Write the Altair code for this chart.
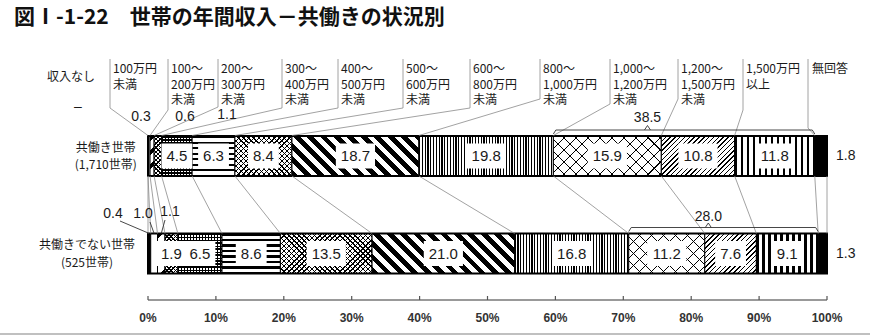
import math
import altair as alt
import pandas as pd

# ---------------- data ----------------
title = "図Ⅰ-1-22　世帯の年間収入－共働きの状況別"
categories = ["収入なし", "100万円未満", "100～200万円未満", "200～300万円未満",
              "300～400万円未満", "400～500万円未満", "500～600万円未満",
              "600～800万円未満", "800～1,000万円未満", "1,000～1,200万円未満",
              "1,200～1,500万円未満", "1,500万円以上", "無回答"]
header_lines = [["収入なし"], ["100万円", "未満"], ["100～", "200万円", "未満"],
                ["200～", "300万円", "未満"], ["300～", "400万円", "未満"],
                ["400～", "500万円", "未満"], ["500～", "600万円", "未満"],
                ["600～", "800万円", "未満"], ["800～", "1,000万円", "未満"],
                ["1,000～", "1,200万円", "未満"], ["1,200～", "1,500万円", "未満"],
                ["1,500万円", "以上"], ["無回答"]]
rows = ["共働き世帯", "共働きでない世帯"]
row_counts = ["(1,710世帯)", "(525世帯)"]
dual_income = [None, 0.3, 0.6, 1.1, 4.5, 6.3, 8.4, 18.7, 19.8, 15.9, 10.8, 11.8, 1.8]
single_income = [0.4, 1.0, 1.1, 1.9, 6.5, 8.6, 13.5, 21.0, 16.8, 11.2, 7.6, 9.1, 1.3]
bracket_first, bracket_last = 9, 11
bracket_totals = [38.5, 28.0]
tick_values = [0, 10, 20, 30, 40, 50, 60, 70, 80, 90, 100]

# ---------------- layout (pixels) ----------------
W, H = 679, 300
LEFT, RIGHT, BOTTOM = 148, 43, 36
PX = W / 100.0
BAR_H = 40
BAR_TOP = [136, 233.5]
FONT_JP = "Noto Sans CJK JP"
FONT_NUM = "Liberation Sans"


def u(px):
    """canvas x pixel -> x-scale units (layout helper for annotations)"""
    return (px - LEFT) / PX


header_sep_px = [None, 110, 168, 218, 282, 338, 403, 470, 540, 610, 678, 743, 808]
header_bend_y = [None, 108, 110, 107, 108, 108, 108, 108, 99, 104, 99, 110, 128]
small_label_pos = {(0, 0): (78, 107), (0, 1): (141, 117), (0, 2): (185, 117), (0, 3): (227, 115),
                   (1, 0): (113, 214), (1, 1): (143, 214), (1, 2): (170, 212)}
leader_from = {(1, 0): (120, 221), (1, 1): (150, 222), (1, 2): (165, 220)}
bracket_y = [130, 227.5]
bracket_label_y = [118, 217]
bracket_notch = [0.36, 0.42]

# ---------------- tables ----------------
recs = []
for r, vals in enumerate([dual_income, single_income]):
    cum = 0.0
    for i, v in enumerate(vals):
        val = v if v is not None else 0.0
        lab = "–" if v is None else f"{v:.1f}"
        recs.append(dict(row=rows[r], r=r, idx=i, cat=categories[i], value=val,
                         start=cum, end=cum + val, mid=cum + val / 2, label=lab))
        cum += val
seg = pd.DataFrame(recs)


def start_of(r, i):
    return float(seg[(seg.r == r) & (seg.idx == i)].start.iloc[0])


def end_of(r, i):
    return float(seg[(seg.r == r) & (seg.idx == i)].end.iloc[0])


xscale = alt.Scale(domain=[0, 100], nice=False, zero=False)
yscale = alt.Scale(domain=rows, range=[BAR_TOP[0], BAR_TOP[1] + BAR_H],
                   paddingInner=1 - BAR_H / (BAR_TOP[1] - BAR_TOP[0]), paddingOuter=0)
X = lambda f: alt.X(f, scale=xscale, axis=None)
Y = lambda f: alt.Y(f, scale=yscale, axis=None)
YP = lambda f: alt.Y(f, scale=None, axis=None)


# ---------------- patterns (styles) ----------------
def stripe_gradient(kind, w, h, period, black, bg):
    if kind == "v":
        L = w; p = (0, 0, 1, 0)
    elif kind == "h":
        L = h; p = (0, 0, 0, 1)
    else:
        k = (w + h) / (w * w + h * h)
        L = (w + h) / math.sqrt(2)
        p = (0, 0, k * w, k * h) if kind == "/" else (0, 1, k * w, 1 - k * h)
    stops = []
    pos = 0.0
    while pos < L - 1e-6:
        a = pos / L
        c = min(pos + black, L) / L
        n = min(pos + period, L) / L
        stops += [(a, "black"), (c, "black")]
        if n > c:
            stops += [(c, bg), (n, bg)]
        pos += period
    return alt.LinearGradient(
        gradient="linear",
        stops=[alt.GradientStop(offset=round(o, 5), color=cl) for o, cl in stops],
        x1=p[0], y1=p[1], x2=p[2], y2=p[3])


PATTERNS = {
    0: [("solid", "black")],
    1: [("solid", "white")],
    2: [("/", 10, 4)],
    3: [("/", 3, 1), ("\\", 3, 1)],
    4: [("h", 3, 1.6), ("v", 3, 1.6)],
    5: [("h", 5.5, 2.2)],
    6: [("/", 3.6, 1.0), ("\\", 3.6, 1.0)],
    7: [("\\", 9.5, 4.8)],
    8: [("v", 2.8, 1.2)],
    9: [("/", 8.5, 1.0), ("\\", 8.5, 1.0)],
    10: [("/", 3.4, 1.0)],
    11: [("v", 6.0, 2.6)],
    12: [("solid", "black")],
}

layers = []
base_chart = alt.Chart(seg)
for r in range(2):
    for i in range(len(categories)):
        v = float(seg[(seg.r == r) & (seg.idx == i)].value.iloc[0])
        if v <= 0:
            continue
        w = v * PX
        part = base_chart.transform_filter(f"datum.r == {r} && datum.idx == {i}")
        for j, spec in enumerate(PATTERNS[i]):
            if spec[0] == "solid":
                fill = spec[1]
            else:
                fill = stripe_gradient(spec[0], w, BAR_H, spec[1], spec[2],
                                       "white" if j == 0 else "transparent")
            props = dict(fill=fill)
            if j == 0:
                props.update(stroke="black", strokeWidth=1)
            layers.append(part.mark_bar(**props).encode(x=X("start:Q"), x2="end:Q", y=Y("row:N")))

# white label boxes + values inside
inside = seg[(seg.value >= 1.5) & (seg.idx < len(categories) - 1)].copy()
inside["tw"] = inside.label.apply(lambda s: sum(4.17 if ch == "." else 8.34 for ch in s))
inside["bl"] = inside.mid - (inside.tw / 2 + 5) / PX
inside["br"] = inside.mid + (inside.tw / 2 + 5) / PX
layers.append(alt.Chart(inside).mark_bar(fill="white", height=25)
              .encode(x=X("bl:Q"), x2="br:Q", y=Y("row:N")))
layers.append(alt.Chart(inside).mark_text(font=FONT_NUM, fontSize=15, color="#1a1a1a")
              .encode(x=X("mid:Q"), y=Y("row:N"), text="label:N"))

# outer outline
outline = pd.DataFrame({"row": rows, "s": [0, 0], "e": [100, 100]})
layers.append(alt.Chart(outline).mark_bar(fill="transparent", stroke="black", strokeWidth=2)
              .encode(x=X("s:Q"), x2="e:Q", y=Y("row:N")))

# last category value on the right
last = seg[seg.idx == len(categories) - 1]
layers.append(alt.Chart(last).mark_text(font=FONT_NUM, fontSize=14, align="left", dx=9, color="#1a1a1a")
              .encode(x=X("end:Q"), y=Y("row:N"), text="label:N"))

# row labels
rl = []
for r in range(2):
    cx = u(LEFT - 11 - 12.5 * len(rows[r]) / 2)
    mid_y = BAR_TOP[r] + BAR_H / 2
    rl.append(dict(t=rows[r], x=cx, y=mid_y - 8.5))
    rl.append(dict(t=row_counts[r], x=cx, y=mid_y + 9))
layers.append(alt.Chart(pd.DataFrame(rl)).mark_text(font=FONT_JP, fontSize=12, color="#1a1a1a")
              .encode(x=X("x:Q"), y=YP("y:Q"), text="t:N"))

# thin gray connector lines between the two bars
conn = []
for i in range(len(categories)):
    conn.append(dict(x=start_of(0, i), x2=start_of(1, i), y=BAR_TOP[0] + BAR_H, y2=BAR_TOP[1]))
conn.append(dict(x=100, x2=100, y=BAR_TOP[0] + BAR_H, y2=BAR_TOP[1]))
# header separators
for i in range(1, len(categories)):
    xs = u(header_sep_px[i])
    conn.append(dict(x=xs, x2=xs, y=59, y2=header_bend_y[i]))
    conn.append(dict(x=xs, x2=start_of(0, i), y=header_bend_y[i], y2=BAR_TOP[0] - 0.5))
layers.append(alt.Chart(pd.DataFrame(conn)).mark_rule(color="#8a8a8a", strokeWidth=0.8)
              .encode(x=X("x:Q"), x2="x2:Q", y=YP("y:Q"), y2="y2:Q"))

# leaders for small values of the second bar
lead = []
for (r, i), (lx, ly) in leader_from.items():
    lead.append(dict(x=u(lx), x2=float(seg[(seg.r == r) & (seg.idx == i)].mid.iloc[0]),
                     y=ly, y2=BAR_TOP[r]))
# brackets
for r in range(2):
    a = start_of(r, bracket_first)
    b = end_of(r, bracket_last)
    n = a + (b - a) * bracket_notch[r]
    yb = bracket_y[r]
    d = 2.5 / PX
    lead += [dict(x=a + d, x2=b - d, y=yb, y2=yb),
             dict(x=a, x2=a + d, y=yb + 4, y2=yb),
             dict(x=b, x2=b - d, y=yb + 4, y2=yb),
             dict(x=n - 3 / PX, x2=n, y=yb, y2=yb - 4.5),
             dict(x=n, x2=n + 3 / PX, y=yb - 4.5, y2=yb)]
layers.append(alt.Chart(pd.DataFrame(lead)).mark_rule(color="#333333", strokeWidth=0.9)
              .encode(x=X("x:Q"), x2="x2:Q", y=YP("y:Q"), y2="y2:Q"))

# labels above bars: small values and bracket totals
sl = []
for (r, i), (px, py) in small_label_pos.items():
    sl.append(dict(t=seg[(seg.r == r) & (seg.idx == i)].label.iloc[0], x=u(px), y=py))
for r in range(2):
    a = start_of(r, bracket_first)
    b = end_of(r, bracket_last)
    sl.append(dict(t=f"{bracket_totals[r]:.1f}", x=a + (b - a) * bracket_notch[r], y=bracket_label_y[r]))
layers.append(alt.Chart(pd.DataFrame(sl)).mark_text(font=FONT_NUM, fontSize=14, color="#1a1a1a")
              .encode(x=X("x:Q"), y=YP("y:Q"), text="t:N"))

# header texts
ht = []
for i, lines in enumerate(header_lines):
    if i == 0:
        ht.append(dict(t=lines[0], x=u(47), y=77))
    elif i == len(header_lines) - 1:
        ht.append(dict(t=lines[0], x=u(header_sep_px[i] + 4), y=69))
    else:
        for k, line in enumerate(lines):
            ht.append(dict(t=line, x=u(header_sep_px[i] + 3), y=69 + 15.5 * k))
layers.append(alt.Chart(pd.DataFrame(ht)).mark_text(font=FONT_JP, fontSize=12, align="left", color="#1a1a1a")
              .encode(x=X("x:Q"), y=YP("y:Q"), text="t:N"))

# axis (drawn from tick values)
ticks = pd.DataFrame({"v": tick_values, "t": [f"{v}%" for v in tick_values]})
layers.append(alt.Chart(pd.DataFrame({"a": [0], "b": [100]})).mark_rule(color="#777777", strokeWidth=1.5)
              .encode(x=X("a:Q"), x2="b:Q", y=alt.value(300)))
layers.append(alt.Chart(ticks).mark_rule(color="#555555", strokeWidth=1.2)
              .encode(x=X("v:Q"), y=alt.value(296), y2=alt.value(300)))
layers.append(alt.Chart(ticks).mark_text(font=FONT_NUM, fontSize=12, fontWeight="bold", color="#333333")
              .encode(x=X("v:Q"), y=alt.value(318), text="t:N"))

# title and bottom gray line
layers.append(alt.Chart(pd.DataFrame({"t": [title]})).mark_text(
    font=FONT_JP, fontSize=21, fontWeight="bold", align="left", color="#111111")
    .encode(x=alt.value(14 - LEFT), y=alt.value(18), text="t:N"))
layers.append(alt.Chart(pd.DataFrame({"a": [0]})).mark_rule(color="#c0c0c0", strokeWidth=2)
              .encode(x=alt.value(-LEFT), x2=alt.value(W + RIGHT), y=alt.value(334)))

chart = alt.layer(*layers).properties(
    width=W, height=H,
    padding={"left": LEFT, "right": RIGHT, "top": 0, "bottom": BOTTOM},
    autosize=alt.AutoSizeParams(type="none"),
    background="white",
).configure_view(stroke=None)

chart.save("out.html", embed_options={"renderer": "svg", "actions": False})
